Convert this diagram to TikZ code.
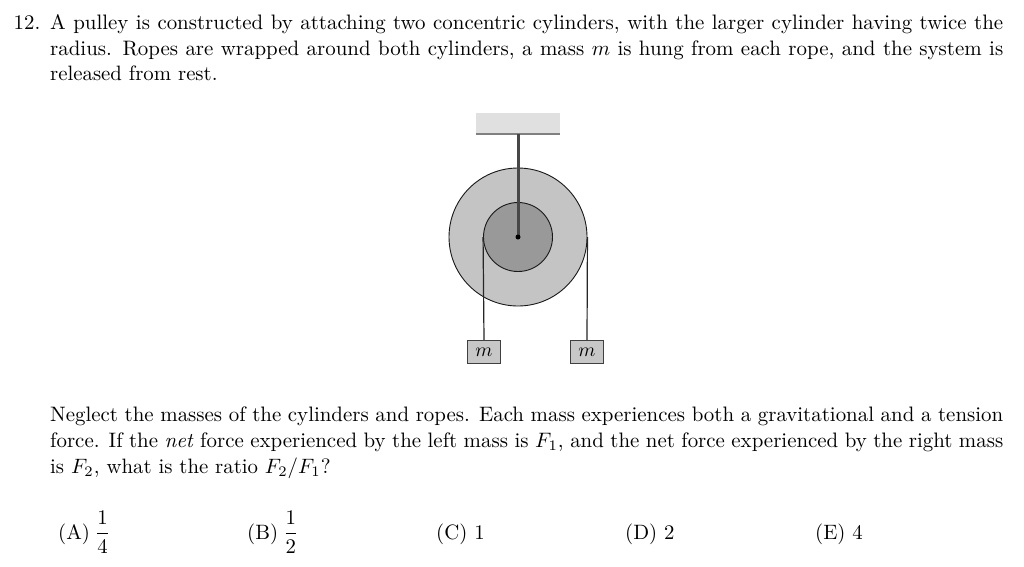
\documentclass[tikz,border=0pt]{standalone}
\usepackage{amsmath}
\newcommand{\jline}[1]{\scalebox{2.09}{\hbox to 456pt{#1}}}
\newcommand{\pline}[1]{\scalebox{2.08}{#1}}
\tikzset{px/.style={x=1pt,y=-1pt},
txt/.style={anchor=base west,inner sep=0pt},
rope/.style={draw=black!85,line width=1.2pt},
massbox/.style={draw=black!75,fill=black!22,line width=1.2pt,minimum width=33pt,minimum height=23pt,inner sep=0pt}}
\begin{document}
\begin{tikzpicture}[px]
\useasboundingbox (0,0) rectangle (1024,566);
\fill[white] (0,0) rectangle (1024,566);
\node[txt] (t0) at (13.5,29) {\pline{12.}};
\node[txt] (t1) at (50,29) {\jline{A pulley is constructed by attaching two concentric cylinders, with the larger cylinder having twice the}};
\node[txt] (t2) at (50,55) {\jline{radius. Ropes are wrapped around both cylinders, a mass $m$ is hung from each rope, and the system is}};
\node[txt] (t3) at (50,80) {\pline{released from rest.}};
\fill[black!12] (476,113) rectangle (560,134);
\draw[black!50,line width=1.2pt] (476,134) -- (560,134);
\node[circle,draw=black!90,fill=black!23,line width=.9pt,minimum size=138pt,inner sep=0pt] (big) at (518,237) {};
\node[circle,draw=black!90,fill=black!40,line width=.9pt,minimum size=69pt,inner sep=0pt] (small) at (518,237) {};
\coordinate (top) at (518,134);
\draw[black!72,line width=3pt] (top) -- (small.center);
\fill[black] (small.center) circle (2.5pt);
\node[massbox] (m1) at (484,352) {\scalebox{1.95}{$m$}};
\node[massbox] (m2) at (587,352) {\scalebox{1.95}{$m$}};
\draw[rope] (small.west) -- (m1.north);
\draw[rope] (big.east) -- (m2.north);
\node[txt] (b1) at (50,421) {\jline{Neglect the masses of the cylinders and ropes. Each mass experiences both a gravitational and a tension}};
\node[txt] (b2) at (50,447) {\jline{force. If the \textit{net} force experienced by the left mass is $F_1$, and the net force experienced by the right mass}};
\node[txt] (b3) at (50,473) {\pline{is $F_2$, what is the ratio $F_2/F_1$?}};
\node[txt] (a) at (58,539) {\pline{(A)\hspace{2.4pt}$\dfrac{1}{4}$}};
\node[txt] (b) at (247,539) {\pline{(B)\hspace{2.4pt}$\dfrac{1}{2}$}};
\node[txt] (c) at (436,539) {\pline{(C) 1}};
\node[txt] (d) at (625,539) {\pline{(D) 2}};
\node[txt] (e) at (815,539) {\pline{(E) 4}};
\end{tikzpicture}
\end{document}
